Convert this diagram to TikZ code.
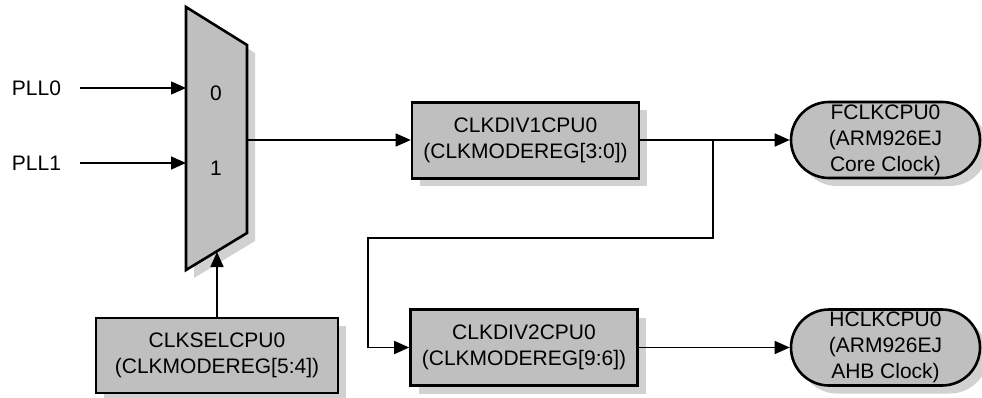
\documentclass[tikz,border=0pt]{standalone}
\usepackage{fontspec}
\setmainfont{Liberation Sans}
\usetikzlibrary{arrows.meta,shapes.misc,shadows}
\begin{document}
\begin{tikzpicture}[x=1pt,y=-1pt,
  txt/.style={font=\fontsize{21}{26}\selectfont, align=center},
  blk/.style={txt, draw, line width=2.6pt, fill=black!25, inner sep=0pt,
    drop shadow={shadow xshift=8pt, shadow yshift=-8pt, fill=black!18, opacity=1}},
  rbox/.style={blk, minimum width=227pt, minimum height=76pt},
  pill/.style={blk, rounded rectangle, minimum width=189pt, minimum height=76pt},
  conn/.style={line width=1.6pt, -{Triangle[length=15pt,width=13pt]}},
  wire/.style={line width=1.6pt}]
\useasboundingbox (0,0) rectangle (982,398);
% mux shadow and body
\fill[black!18] (194,15) -- (255,53) -- (255,241) -- (194,278) -- cycle;
\draw[line width=2.6pt, fill=black!25, line join=miter] (186,7) -- (247,45) -- (247,233) -- (186,270) -- cycle;
\coordinate (m0) at (186,88);
\coordinate (m1) at (186,163);
\coordinate (mout) at (247,140);
\coordinate (msel) at (217,252);
\node[txt] (z0) at (216,93) {0};
\node[txt] (z1) at (216,168) {1};
\node[txt] (pll0) at (36.5,88) {PLL0};
\node[txt] (pll1) at (36.5,163) {PLL1};
\coordinate (p0s) at (80,88);
\coordinate (p1s) at (80,163);
\draw[conn] (p0s) -- (m0);
\draw[conn] (p1s) -- (m1);
% blocks
\node[rbox] (div1) at (525.5,140.5) {CLKDIV1CPU0\\(CLKMODEREG[3:0])};
\node[rbox] (div2) at (524,347.5) {CLKDIV2CPU0\\(CLKMODEREG[9:6])};
\node[blk, minimum width=242pt, minimum height=75pt] (sel) at (217,355.5) {CLKSELCPU0\\(CLKMODEREG[5:4])};
\node[pill] (fclk) at (885.5,140) {FCLKCPU0\\(ARM926EJ\\Core Clock)};
\node[pill] (hclk) at (885.5,347.5) {HCLKCPU0\\(ARM926EJ\\AHB Clock)};
% connectors
\draw[conn] (mout) -- (div1.west |- mout);
\draw[conn] (sel.north -| msel) -- (msel);
\coordinate (br) at (713,140);
\draw[conn] (div1.east |- br) -- (fclk.west |- br);
\draw[conn] (br) -- (713,238) -- (368,238) -- (368,347.5) -- (div2.west);
\draw[conn] (div2.east) -- (hclk.west);
\end{tikzpicture}
\end{document}
